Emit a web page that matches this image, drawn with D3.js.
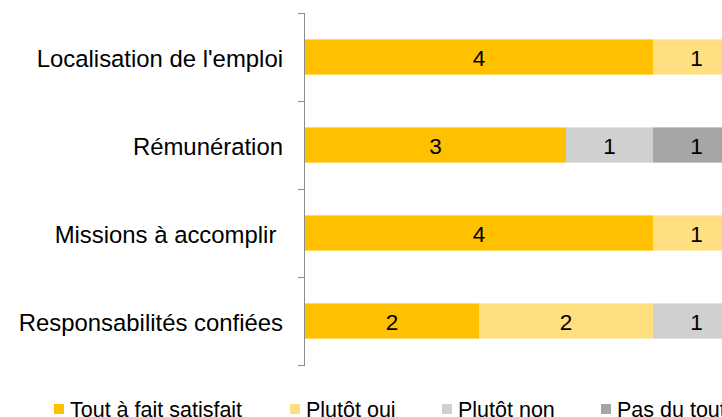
<!DOCTYPE html>
<html>
<head>
<meta charset="utf-8">
<script src="https://cdn.jsdelivr.net/npm/d3@7"></script>
<style>
  body { margin: 0; background: #fff; overflow: hidden; }
  svg { display: block; font-family: "Liberation Sans", Arial, sans-serif; }
  text { white-space: pre; }
</style>
</head>
<body>
<svg id="canvas" width="722" height="417"></svg>
<script>
// data
var categories = ["Localisation de l'emploi", "Rémunération", "Missions à accomplir ", "Responsabilités confiées"];
var series = ["Tout à fait satisfait", "Plutôt oui", "Plutôt non", "Pas du tout satisfait"];
var colors = ["#FFC000", "#FFDF80", "#D0D0D0", "#A6A6A6"];
var toutAFait = [4, 3, 4, 2];
var plutotOui = [1, 0, 1, 2];
var plutotNon = [0, 1, 0, 1];
var pasDuTout = [0, 1, 0, 0];

var values = [toutAFait, plutotOui, plutotNon, pasDuTout];
var rows = categories.map(function(c, i){
  var r = { cat: c };
  series.forEach(function(s, j){ r[s] = values[j][i]; });
  return r;
});

var svg = d3.select('#canvas');
var chartLeft = 305, chartTop = 13, bandH = 88;

var xScale = d3.scaleLinear().domain([0, 5]).range([chartLeft, chartLeft + 5*87]);
var yScale = d3.scaleBand().domain(categories).range([chartTop, chartTop + bandH*categories.length]).paddingInner(0.6).paddingOuter(0.3);

var stack = d3.stack().keys(series)(rows);

var g = svg.append('g');
stack.forEach(function(layer, j){
  layer.forEach(function(d){
    var w = xScale(d[1]) - xScale(d[0]);
    if (w <= 0) return;
    g.append('rect')
      .attr('x', xScale(d[0])).attr('y', yScale(d.data.cat))
      .attr('width', w).attr('height', yScale.bandwidth())
      .attr('fill', colors[j]);
    g.append('text')
      .attr('x', (xScale(d[0]) + xScale(d[1]))/2)
      .attr('y', yScale(d.data.cat) + yScale.bandwidth()/2 + 1)
      .attr('text-anchor', 'middle').attr('dominant-baseline', 'central')
      .style('font-size', '22.5px').style('fill', '#000')
      .text(d[1] - d[0]);
  });
});

// vertical axis with ticks between categories
var axis = svg.append('g');
axis.append('line')
  .attr('x1', chartLeft - 0.5).attr('x2', chartLeft - 0.5)
  .attr('y1', chartTop).attr('y2', chartTop + bandH*categories.length)
  .style('stroke', '#8c8c8c').style('stroke-width', 1);
d3.range(categories.length + 1).forEach(function(i){
  var yy = chartTop + i*bandH + 0.5;
  axis.append('line')
    .attr('x1', chartLeft - 7).attr('x2', chartLeft).attr('y1', yy).attr('y2', yy)
    .style('stroke', '#8c8c8c').style('stroke-width', 1);
});
categories.forEach(function(c){
  axis.append('text')
    .attr('x', chartLeft - 22).attr('y', yScale(c) + yScale.bandwidth()/2 + 1.5)
    .attr('text-anchor', 'end').attr('dominant-baseline', 'central')
    .style('font-size', '23.9px').style('fill', '#000')
    .text(c);
});

// legend
var legendX = [54, 290, 442, 601];
var legend = svg.append('g');
series.forEach(function(s, j){
  legend.append('rect')
    .attr('x', legendX[j]).attr('y', 404).attr('width', 10).attr('height', 10)
    .attr('fill', colors[j]);
  legend.append('text')
    .attr('x', legendX[j] + 16).attr('y', 416.5)
    .style('font-size', '21.5px').style('fill', '#000')
    .text(s);
});
</script>
</body>
</html>
